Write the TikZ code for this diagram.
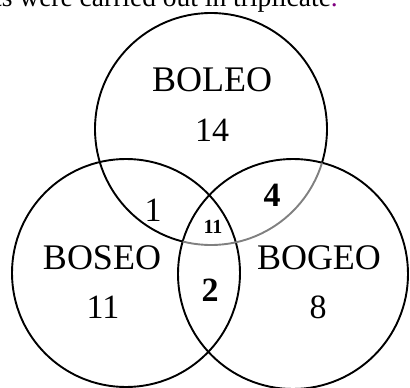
\documentclass[tikz,border=0pt]{standalone}
\usepackage{fontspec}
\setmainfont{Liberation Serif}
\begin{document}
\begin{tikzpicture}[x=1pt,y=-1pt,
  ring/.style={line width=1.9pt},
  big/.style={font=\fontsize{36}{36}\selectfont, inner sep=0pt},
  num/.style={font=\fontsize{34}{34}\selectfont, inner sep=0pt},
  bnum/.style={font=\fontsize{34}{34}\selectfont\bfseries, inner sep=0pt},
  snum/.style={font=\fontsize{20}{20}\selectfont\bfseries, inner sep=0pt}]
\useasboundingbox (0,0) rectangle (410,388);
\begin{scope}
\clip (0,0) rectangle (410,388);
\node[anchor=base east, inner sep=0pt, font=\fontsize{27.5}{27.5}\selectfont] (cap) at (338,6) {ts were carried out in triplicate\textcolor{violet}{.}};
\end{scope}
% circles
\coordinate (cT) at (211,129);
\coordinate (cL) at (126,273);
\coordinate (cR) at (293,274);
\draw[ring] (cL) circle (114);
\draw[ring] (cR) circle (115);
\begin{scope}[even odd rule]
  \clip (0,0) rectangle (410,388) (cR) circle (115);
  \draw[ring] (cT) circle (116);
\end{scope}
\begin{scope}
  \clip (cR) circle (115);
  \draw[ring, gray] (cT) circle (116);
\end{scope}
% labels
\node[big] (boleo) at (212,80) {BOLEO};
\node[num] (n14) at (212,130) {14};
\node[big] (boseo) at (102,258) {BOSEO};
\node[num] (n11) at (103,307) {11};
\node[big] (bogeo) at (319,258) {BOGEO};
\node[num] (n8) at (318,307) {8};
\node[num] (n1) at (153,210) {1};
\node[bnum] (n4) at (272,195) {4};
\node[snum] (n11c) at (213,227) {11};
\node[bnum] (n2) at (210,290) {2};
\end{tikzpicture}
\end{document}
